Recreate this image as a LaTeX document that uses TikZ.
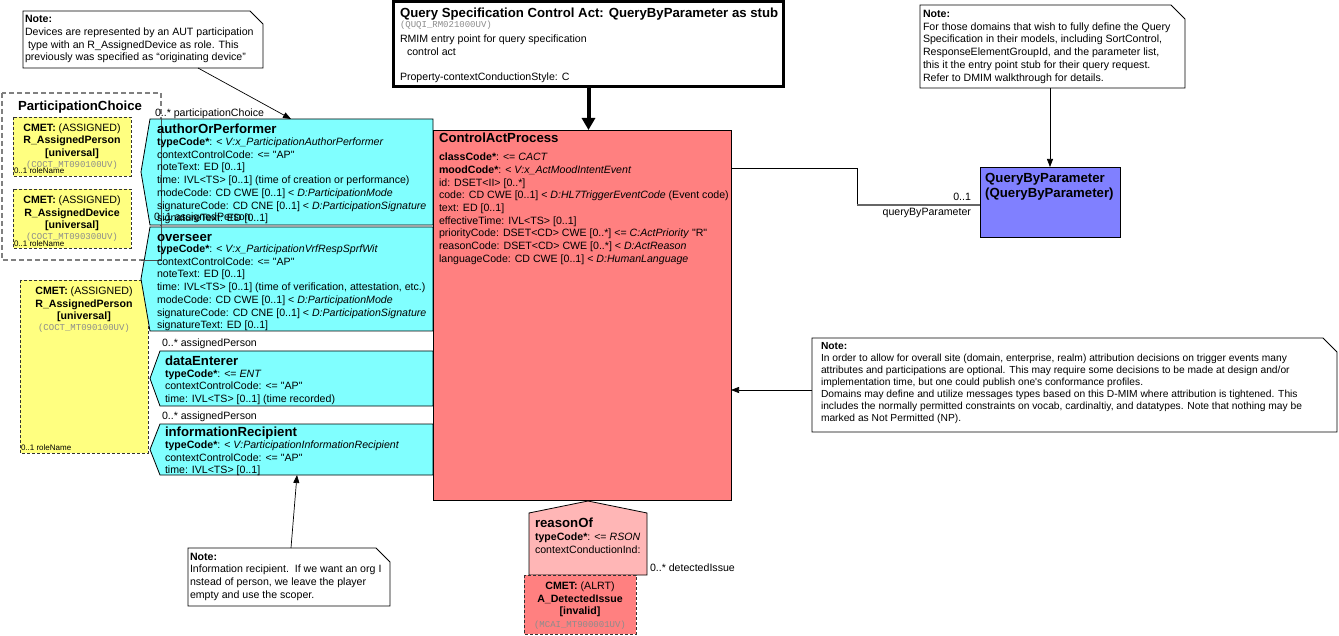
\documentclass[tikz,border=0pt]{standalone}
\usepackage{fontspec}
\setmainfont{Liberation Sans}
\newfontfamily\plainsans{Liberation Sans}
\newfontfamily\monof{Liberation Mono}
\usetikzlibrary{arrows.meta}
\definecolor{cyanf}{HTML}{80FFFF}
\definecolor{redf}{HTML}{FF8080}
\definecolor{pinkf}{HTML}{FFB6B6}
\definecolor{yelf}{HTML}{FFFF80}
\definecolor{bluef}{HTML}{8080FF}
\tikzset{
  txt/.style={anchor=north west, inner sep=0pt, outer sep=0pt, align=left, font=\fontsize{10.6}{12.7}\selectfont},
  ctxt/.style={anchor=north, inner sep=0pt, outer sep=0pt, align=center, font=\fontsize{10.6}{12.7}\selectfont},
  ttl/.style={anchor=base west, inner sep=0pt, outer sep=0pt, font=\fontsize{13.2}{15}\selectfont\bfseries},
  lbl/.style={anchor=base west, inner sep=0pt, outer sep=0pt, font=\fontsize{10.6}{12.7}\selectfont},
  role/.style={anchor=base west, inner sep=0pt, outer sep=0pt, font=\fontsize{8}{9}\selectfont},
  mono/.style={anchor=base, inner sep=0pt, outer sep=0pt, text=black!45, font=\fontsize{9}{10}\selectfont\monof},
  notebox/.style={draw=black, fill=white, line width=0.8pt},
  cmetbox/.style={draw=black!80, dash pattern=on 3pt off 2pt, line width=0.9pt},
  cyanbox/.style={draw=black, fill=cyanf, line width=0.8pt},
  arr/.style={-{Triangle[length=8pt,width=6pt]}, line width=0.7pt},
}
\begin{document}
\plainsans
\begin{tikzpicture}[x=1pt,y=-1pt]
\useasboundingbox (0,0) rectangle (1339,636);
\fill[white] (0,0) rectangle (1339,636);

% ParticipationChoice group
\draw[gray, line width=1.4pt, dash pattern=on 5pt off 3pt] (2,93) rectangle (161,260);
\node[ttl, anchor=base] (pctitle) at (80,110.4) {ParticipationChoice};
\filldraw[cmetbox, fill=yelf] (13,117) rectangle (131,176);
\node[ctxt] (y1t) at (72,122.4) {\strut\textbf{CMET:} (ASSIGNED)\\\textbf{R\_AssignedPerson}\\\textbf{[universal]}};
\node[mono] (y1m) at (72,168) {(COCT\_MT090100UV)};
\node[role] (y1r) at (14,174) {0..1 roleName};
\filldraw[cmetbox, fill=yelf] (13,189) rectangle (131,248);
\node[ctxt] (y2t) at (72,194.7) {\strut\textbf{CMET:} (ASSIGNED)\\\textbf{R\_AssignedDevice}\\\textbf{[universal]}};
\node[mono] (y2m) at (72,240) {(COCT\_MT090300UV)};
\node[role] (y2r) at (14,246.5) {0..1 roleName};

% tall yellow CMET
\filldraw[cmetbox, fill=yelf] (20,280) rectangle (148,453);
\node[ctxt] (y3t) at (84,285.7) {\strut\textbf{CMET:} (ASSIGNED)\\\textbf{R\_AssignedPerson}\\\textbf{[universal]}};
\node[mono] (y3m) at (84,331) {(COCT\_MT090100UV)};
\node[role] (y3r) at (21,450) {0..1 roleName};

% participations
\filldraw[cyanbox] (150,119) -- (433,119) -- (433,225) -- (150,225) -- (141,172) -- cycle;
\filldraw[cyanbox] (150,227) -- (433,227) -- (433,331) -- (150,331) -- (141,279) -- cycle;
\filldraw[cyanbox] (160,351) -- (433,351) -- (433,406) -- (160,406) -- (150,378.5) -- cycle;
\filldraw[cyanbox] (160,424) -- (433,424) -- (433,475) -- (160,475) -- (150,449.5) -- cycle;
\draw[black!70, line width=0.6pt] (161,119) -- (161,260) -- (141,260);

\node[ttl] (aopt) at (157,133.7) {authorOrPerformer};
\node[txt] (aopa) at (157,136.7) {\strut\textbf{typeCode*}: < \textit{V:x\_ParticipationAuthorPerformer}\\
contextControlCode: <= "AP"\\
noteText: ED [0..1]\\
time: IVL<TS> [0..1] (time of creation or performance)\\
modeCode: CD CWE [0..1] < \textit{D:ParticipationMode}\\
signatureCode: CD CNE [0..1] < \textit{D:ParticipationSignature}\\
signatureText: ED [0..1]};
\node[lbl] (l2) at (154,221) {0..1 assignedPerson};

\node[ttl] (ovt) at (157,241.4) {overseer};
\node[txt] (ova) at (157,243.7) {\strut\textbf{typeCode*}: < \textit{V:x\_ParticipationVrfRespSprfWit}\\
contextControlCode: <= "AP"\\
noteText: ED [0..1]\\
time: IVL<TS> [0..1] (time of verification, attestation, etc.)\\
modeCode: CD CWE [0..1] < \textit{D:ParticipationMode}\\
signatureCode: CD CNE [0..1] < \textit{D:ParticipationSignature}\\
signatureText: ED [0..1]};

\node[ttl] (det) at (165,365.4) {dataEnterer};
\node[txt] (dea) at (165,368.4) {\strut\textbf{typeCode*}: <= \textit{ENT}\\
contextControlCode: <= "AP"\\
time: IVL<TS> [0..1] (time recorded)};

\node[ttl] (irt) at (165,436.4) {informationRecipient};
\node[txt] (ira) at (165,439.7) {\strut\textbf{typeCode*}: < \textit{V:ParticipationInformationRecipient}\\
contextControlCode: <= "AP"\\
time: IVL<TS> [0..1]};

\node[lbl] (l1) at (155,116.8) {0..* participationChoice};
\node[lbl] (l3) at (162,347) {0..* assignedPerson};
\node[lbl] (l4) at (162,419) {0..* assignedPerson};

% ControlActProcess
\node[draw=black, fill=redf, line width=0.8pt, anchor=north west, minimum width=298pt, minimum height=370pt, inner sep=0pt, outer sep=0pt] (cap) at (433,130) {};
\node[ttl] (capt) at (439,142.4) {ControlActProcess};
\node[txt] (capa) at (439,151.8) {\strut\textbf{classCode*}: <= \textit{CACT}\\
\textbf{moodCode*}: < \textit{V:x\_ActMoodIntentEvent}\\
id: DSET<II> [0..*]\\
code: CD CWE [0..1] < \textit{D:HL7TriggerEventCode} (Event code)\\
text: ED [0..1]\\
effectiveTime: IVL<TS> [0..1]\\
priorityCode: DSET<CD> CWE [0..*] <= \textit{C:ActPriority} "R"\\
reasonCode: DSET<CD> CWE [0..*] < \textit{D:ActReason}\\
languageCode: CD CWE [0..1] < \textit{D:HumanLanguage}};

% top centre box
\node[draw=black, fill=white, line width=3pt, anchor=north west, minimum width=390pt, minimum height=85pt, inner sep=0pt, outer sep=0pt] (tcbox) at (393.5,1.5) {};
\node[ttl] (tct) at (400,17.4) {Query Specification Control Act: QueryByParameter as stub};
\node[mono, anchor=base west] (tcm) at (400,28) {(QUQI\_RM021000UV)};
\node[txt] (tca) at (400,33.8) {\strut RMIM entry point for query specification\\
\hspace*{7pt}control act\\
\strut\\
Property-contextConductionStyle: C};
\draw[line width=4pt, -{Triangle[length=12pt,width=13pt]}] (tcbox.south) -- (tcbox.south |- cap.north);

% QueryByParameter
\node[draw=black, fill=bluef, line width=0.8pt, anchor=north west, minimum width=140pt, minimum height=70pt, inner sep=0pt, outer sep=0pt] (qbp) at (980,167) {};
\node[anchor=north west, inner sep=0pt, align=left, font=\fontsize{13.2}{15}\selectfont\bfseries] (qbpt) at (985,172.2) {\strut QueryByParameter\\(QueryByParameter)};
\coordinate (q1) at (857,168);
\coordinate (q2) at (857,205);
\draw[line width=0.7pt] (cap.east |- q1) -- (q1) -- (q2);
\draw[black!60, line width=1.4pt] (q2) -- (q2 -| qbp.west);
\node[lbl, anchor=base east] (l5) at (971,201) {0..1};
\node[lbl, anchor=base east] (l6) at (971,216) {queryByParameter};

% notes
\filldraw[notebox] (23,11) -- (250,11) -- (263,24) -- (263,68) -- (23,68) -- cycle;
\node[txt] (tlnt) at (25,14) {\strut\textbf{Note:}\\
Devices are represented by an AUT participation\\
\hspace*{3pt}type with an R\_AssignedDevice as role. This\\
previously was specified as “originating device”};
\coordinate (tln) at (198,68);
\coordinate (aoptop) at (291,119);
\draw[arr] (tln) -- (aoptop);

\filldraw[notebox] (920,5) -- (1171,5) -- (1185,19) -- (1185,88) -- (920,88) -- cycle;
\node[txt] (trnt) at (923,8.7) {\strut\textbf{Note:}\\
For those domains that wish to fully define the Query\\
Specification in their models, including SortControl,\\
ResponseElementGroupId, and the parameter list,\\
this it the entry point stub for their query request.\\
Refer to DMIM walkthrough for details.};
\coordinate (trn) at (1050,88);
\draw[arr] (trn) -- (qbp.north);

\filldraw[notebox] (812,338) -- (1323,338) -- (1337,352) -- (1337,432) -- (812,432) -- cycle;
\node[txt, font=\fontsize{10.25}{12}\selectfont] (rnt) at (821,341.4) {\strut\textbf{Note:}\\
In order to allow for overall site (domain, enterprise, realm) attribution decisions on trigger events many\\
attributes and participations are optional. This may require some decisions to be made at design and/or\\
implementation time, but one could publish one's conformance profiles.\\
Domains may define and utilize messages types based on this D-MIM where attribution is tightened. This\\
includes the normally permitted constraints on vocab, cardinaltiy, and datatypes. Note that nothing may be\\
marked as Not Permitted (NP).};
\coordinate (rn) at (812,390);
\draw[arr] (rn) -- (rn -| cap.east);

\filldraw[notebox] (188,548) -- (376,548) -- (390,562) -- (390,606) -- (188,606) -- cycle;
\node[txt] (bnt) at (190,551.4) {\strut\textbf{Note:}\\
Information recipient.\ \ If we want an org I\\
nstead of person, we leave the player\\
empty and use the scoper.};
\coordinate (bn) at (291,548);
\coordinate (irbot) at (297,475);
\draw[arr] (bn) -- (irbot);

% reasonOf
\filldraw[draw=black, fill=pinkf, line width=0.8pt] (529,513) -- (588,501) -- (647,513) -- (647,575) -- (529,575) -- cycle;
\node[ttl] (rot) at (535,527.7) {reasonOf};
\node[txt] (roa) at (535,531.7) {\strut\textbf{typeCode*}: <= \textit{RSON}\\
contextConductionInd:};
\node[lbl] (l7) at (650,571) {0..* detectedIssue};
\filldraw[cmetbox, fill=redf] (524,575) rectangle (636,634);
\node[ctxt] (rct) at (580,580.7) {\strut\textbf{CMET:} (ALRT)\\\textbf{A\_DetectedIssue}\\\textbf{[invalid]}};
\node[mono] (rcm) at (580,627) {(MCAI\_MT900001UV)};
\end{tikzpicture}
\end{document}
